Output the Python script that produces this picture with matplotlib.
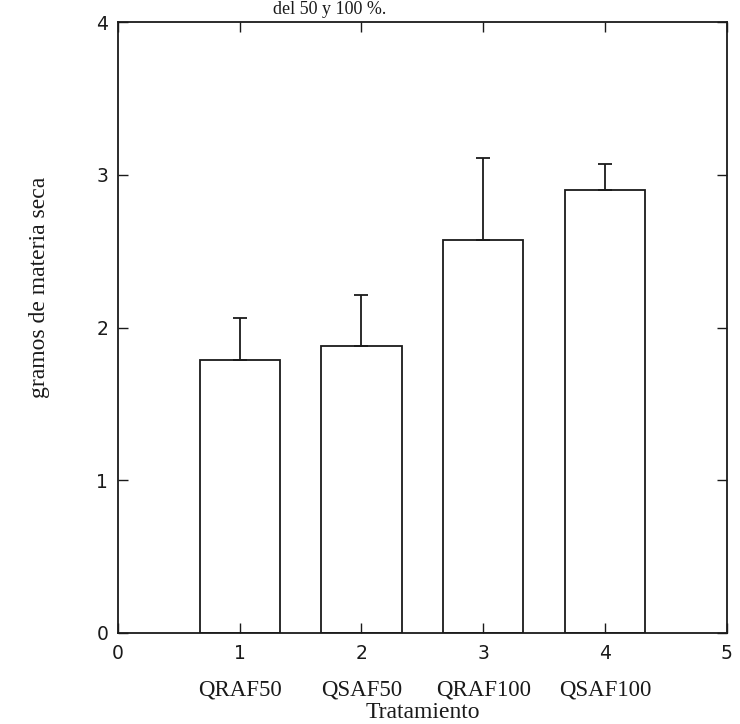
import numpy as np
import matplotlib.pyplot as plt

# Datos de la grafica
tratamientos = ['QRAF50', 'QSAF50', 'QRAF100', 'QSAF100']
posiciones = [1, 2, 3, 4]
medias = [1.79, 1.88, 2.57, 2.90]
error_sup = [0.27, 0.33, 0.54, 0.17]

fig = plt.figure(figsize=(7.4, 7.24), dpi=100)
ax = fig.add_axes([0.1595, 0.1257, 0.8225, 0.8439])

color = '#1a1a1a'
ax.bar(posiciones, medias, width=0.66, facecolor='white', edgecolor=color,
       linewidth=1.3)
ax.errorbar(posiciones, medias, yerr=[np.zeros(len(medias)), error_sup],
            fmt='none', ecolor=color, elinewidth=1.3, capsize=5, capthick=1.3)

ax.set_xlim(0, 5)
ax.set_ylim(0, 4)
ax.set_xticks(range(6))
ax.set_yticks(range(5))
ax.tick_params(direction='in', top=True, right=True, length=7, width=1,
               colors=color, labelsize=13.5)
ax.tick_params(axis='x', pad=8)
ax.tick_params(axis='y', pad=7)
for s in ax.spines.values():
    s.set_linewidth(1.3)
    s.set_color(color)

# Nombres de los tratamientos bajo los numeros
for p, t in zip(posiciones, tratamientos):
    ax.text(p, -0.37, t, ha='center', va='center', fontsize=16.5,
            family='Liberation Serif', color=color)
ax.text(2.5, -0.52, 'Tratamiento', ha='center', va='center', fontsize=17,
        family='Liberation Serif', color=color)

fig.text(40 / 740, 1 - 287 / 724, 'gramos de materia seca', rotation=90,
         ha='center', va='center', fontsize=17, family='Liberation Serif',
         color=color)
fig.text(330 / 740, 0.999, 'del 50 y 100 %.', ha='center', va='top',
         fontsize=13, family='Liberation Serif', color=color)

fig.savefig('out.png', dpi=100)
